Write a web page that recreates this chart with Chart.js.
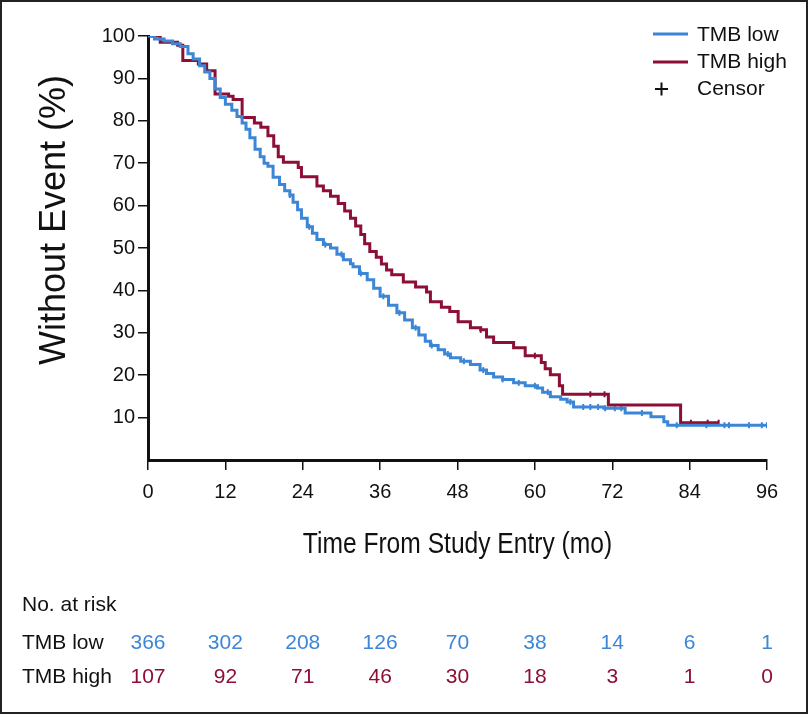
<!DOCTYPE html>
<html>

<head>
    <script src="https://cdn.jsdelivr.net/npm/chart.js"></script>
    <style>
        body { margin: 0; background: #fff; }
        #wrap { position: relative; width: 808px; height: 714px; }
    </style>
</head>

<body>
    <div id="wrap">
        <canvas id="chartId" width="808" height="714"></canvas>
    </div>
    <script>
        // x axis ticks (months)
        const months = [0, 12, 24, 36, 48, 60, 72, 84, 96];

        // TMB low: step times and survival (%)
        const lowT = [0, 1, 2.5, 3.8, 5, 6.2, 7, 8, 8.8, 9.6, 10.4, 11.2, 12, 13, 13.8, 14.6, 15.2, 15.8, 16.6, 17.4,
            18, 18.6, 19.4, 20.4, 21.2, 22, 22.5, 23.2, 23.8, 24.7, 25.5, 26.2, 27.2, 28.3, 29.3, 30.3, 31.4, 31.8,
            32.8, 34, 35, 36, 37.3, 38.6, 39.8, 41, 42, 43, 43.8, 45, 46, 46.9, 48.5, 50, 51.5, 52.5, 53.6, 55, 56.7,
            58.5, 60.4, 61.2, 62.4, 64, 65, 66, 70.7, 74, 78, 80, 80.6, 96];
        const lowS = [100, 99.3, 98.8, 98.2, 97.5, 95.8, 94.6, 93, 91.5, 90, 87.5, 85.5, 83.9, 82.5, 81, 79.5, 78, 76, 73.3, 71.5,
            70, 69.3, 66.7, 65, 63.5, 62.5, 60.8, 59, 57, 55, 53.5, 52, 50.8, 50, 48.5, 47.2, 46.3, 45.6,
            44, 42.5, 40.5, 38.6, 36.5, 34.7, 33, 31.2, 29.5, 28, 27, 26, 25, 24.1, 23.3, 22.5, 21.2, 20.4, 19.6, 19, 18.2,
            17.5, 17, 16, 14.9, 14.3, 13.7, 12.5, 12.2, 11.1, 10.2, 9, 8.2, 8.2];

        // TMB high: step times and survival (%)
        const highT = [0, 1.9, 4.6, 5.4, 7.8, 9.1, 10.4, 12.5, 13.2, 14.6, 16.5, 17.5, 18.6, 19.5, 20.2, 21, 23.3, 23.8,
            26.2, 27.2, 28.3, 29.5, 30.5, 31.4, 32.2, 33, 33.6, 34.4, 35.4, 36.2, 37, 37.8, 39.6, 41.5, 43.2, 43.8,
            45.5, 46.8, 48.1, 50, 51.6, 52.5, 53.6, 56.7, 58.5, 61, 61.6, 62.4, 63.8, 64.3, 71.4, 82.6, 88.5];
        const highS = [100, 98.5, 97.8, 94.2, 93.4, 91.8, 86.3, 85.8, 85, 80.8, 79.5, 78.5, 76.5, 74, 71.5, 70.2, 69, 66.8,
            64.6, 63.5, 62.2, 60.5, 58.7, 57, 55.2, 53.2, 51, 49.2, 47.8, 46.2, 44.8, 43.7, 42, 40.8, 39.6, 37.3,
            36, 35, 32.6, 31.2, 30.7, 29, 27.7, 26.5, 24.6, 23, 21.5, 20.1, 17.5, 15.5, 13, 8.8, 8.8];

        // censor times
        const lowCensor = [22, 25, 27.5, 30, 33, 36.5, 39, 41.5, 44, 46.5, 49, 52, 55, 57.5, 60, 62, 65.5, 67.5, 68.6, 69.8, 70.9,
            72.4, 73.4, 76.6, 82, 86.6, 89.4, 90.1, 93.2, 95.2, 96];
        const highCensor = [51.6, 60, 68.6, 70.8, 84.2, 86.8, 88.5];

        // number at risk
        const riskLow = [366, 302, 208, 126, 70, 38, 14, 6, 1];
        const riskHigh = [107, 92, 71, 46, 30, 18, 3, 1, 0];

        const blue = '#3b86d6';
        const red = '#8c0f35';
        const FONT = "'Liberation Sans', Arial, sans-serif";

        function survAt(ts, ss, t) {
            let s = ss[0];
            for (let i = 0; i < ts.length; i++) {
                if (ts[i] <= t) s = ss[i];
            }
            return s;
        }

        const toXY = (ts, ss) => ts.map((t, i) => ({ x: t, y: ss[i] }));
        const censorXY = (cs, ts, ss) => cs.map(t => ({ x: t, y: survAt(ts, ss, t) }));

        // axis titles, legend, risk table and frame
        const extras = {
            id: 'extras',
            afterDraw(chart) {
                const ctx = chart.ctx;
                const xs = chart.scales.x;
                const area = chart.chartArea;
                ctx.save();
                // frame
                ctx.strokeStyle = '#222';
                ctx.lineWidth = 2;
                ctx.strokeRect(1, 1, 806, 712);

                ctx.fillStyle = '#111';
                ctx.textAlign = 'center';
                ctx.textBaseline = 'middle';

                // y title
                ctx.save();
                ctx.translate(55, 220);
                ctx.rotate(-Math.PI / 2);
                ctx.font = '36px ' + FONT;
                ctx.fillText('Without Event (%)', 0, 0);
                ctx.restore();

                // x title (condensed look)
                ctx.save();
                ctx.translate((area.left + area.right) / 2, 545);
                ctx.scale(0.82, 1);
                ctx.font = '30px ' + FONT;
                ctx.fillText('Time From Study Entry (mo)', 0, 0);
                ctx.restore();

                // legend
                ctx.font = '21px ' + FONT;
                ctx.textAlign = 'left';
                ctx.lineWidth = 3;
                ctx.strokeStyle = blue;
                ctx.beginPath(); ctx.moveTo(653, 34); ctx.lineTo(688, 34); ctx.stroke();
                ctx.strokeStyle = red;
                ctx.beginPath(); ctx.moveTo(653, 62); ctx.lineTo(688, 62); ctx.stroke();
                ctx.strokeStyle = '#111';
                ctx.lineWidth = 2;
                ctx.beginPath();
                ctx.moveTo(655, 89); ctx.lineTo(668, 89);
                ctx.moveTo(661.5, 82.5); ctx.lineTo(661.5, 95.5);
                ctx.stroke();
                ctx.fillText('TMB low', 697, 35);
                ctx.fillText('TMB high', 697, 62);
                ctx.fillText('Censor', 697, 89);

                // risk table
                ctx.font = '21px ' + FONT;
                ctx.fillText('No. at risk', 22, 605);
                ctx.fillText('TMB low', 22, 643);
                ctx.fillText('TMB high', 22, 677);
                ctx.textAlign = 'center';
                months.forEach((m, i) => {
                    const px = xs.getPixelForValue(m);
                    ctx.fillStyle = blue;
                    ctx.fillText(String(riskLow[i]), px, 643);
                    ctx.fillStyle = red;
                    ctx.fillText(String(riskHigh[i]), px, 677);
                });
                ctx.restore();
            }
        };

        const line = (data, color) => ({
            data: data,
            borderColor: color,
            borderWidth: 3,
            stepped: 'before',
            pointRadius: 0,
            fill: false
        });
        const marks = (data, color) => ({
            type: 'scatter',
            data: data,
            pointStyle: 'line',
            rotation: 90,
            pointRadius: 3,
            pointBorderWidth: 2,
            borderColor: color,
            backgroundColor: color,
            showLine: false
        });

        new Chart(document.getElementById('chartId'), {
            type: 'line',
            data: {
                datasets: [
                    line(toXY(lowT, lowS), blue),
                    line(toXY(highT, highS), red),
                    marks(censorXY(lowCensor, lowT, lowS), blue),
                    marks(censorXY(highCensor, highT, highS), red)
                ]
            },
            options: {
                responsive: false,
                animation: false,
                layout: { padding: { left: 0, top: 36, right: 41, bottom: 0 } },
                plugins: { legend: { display: false }, tooltip: { enabled: false } },
                scales: {
                    x: {
                        type: 'linear',
                        min: 0,
                        max: 96,
                        afterFit: (s) => { s.height = 254; },
                        afterBuildTicks: (s) => { s.ticks = months.map(v => ({ value: v })); },
                        grid: { drawOnChartArea: false, color: '#111', lineWidth: 1.5, tickLength: 10 },
                        border: { color: '#111', width: 3 },
                        ticks: { color: '#111', padding: 10, font: { size: 20, family: FONT } }
                    },
                    y: {
                        min: 0,
                        max: 100,
                        afterFit: (s) => { s.width = 148; },
                        ticks: {
                            stepSize: 10,
                            color: '#111',
                            padding: 3,
                            font: { size: 20, family: FONT },
                            callback: (v) => v === 0 ? null : v
                        },
                        grid: { drawOnChartArea: false, color: '#111', lineWidth: 1.5, tickLength: 10 },
                        border: { color: '#111', width: 3 }
                    }
                }
            },
            plugins: [extras]
        });
    </script>
</body>

</html>
